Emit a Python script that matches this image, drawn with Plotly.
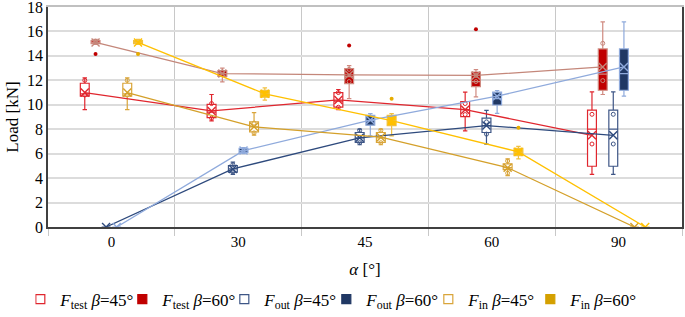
import plotly.graph_objects as go

categories = ["0", "30", "45", "60", "90"]

series_names = [
    "<i>F</i><sub>test</sub> <i>β</i>=45°",
    "<i>F</i><sub>test</sub> <i>β</i>=60°",
    "<i>F</i><sub>out</sub> <i>β</i>=45°",
    "<i>F</i><sub>out</sub> <i>β</i>=60°",
    "<i>F</i><sub>in</sub> <i>β</i>=45°",
    "<i>F</i><sub>in</sub> <i>β</i>=60°",
]

y_ticks = [0, 2, 4, 6, 8, 10, 12, 14, 16, 18]

# box statistics per series, per category (0, 30, 45, 60, 90)
test45_q1 = [10.7, 8.95, 9.81, 9.03, 4.97]
test45_med = [10.9, 9.4, 10.3, 9.6, 8.0]
test45_q3 = [11.76, 10.03, 11.0, 10.27, 9.57]
test45_lo = [9.6, 8.68, 9.6, 7.87, 4.3]
test45_hi = [12.2, 10.84, 11.25, 11.03, 11.05]
test45_mean = [11.0, 9.5, 10.4, 9.6, 7.5]
test45_pts = [[12.0, 10.8], [10.1, 8.9], [11.0, 9.8], [10.1, 9.2], [9.22, 6.79]]
test45_out = [[], [], [], [], []]

test60_q1 = [15.0, 12.33, 11.73, 11.49, 11.19]
test60_med = [15.1, 12.55, 12.3, 11.9, 12.5]
test60_q3 = [15.25, 12.79, 12.95, 12.68, 14.57]
test60_lo = [14.95, 11.87, 10.5, 10.65, 10.84]
test60_hi = [15.35, 13.0, 13.2, 12.87, 16.79]
test60_mean = [15.1, 12.55, 12.45, 12.4, 13.1]
test60_pts = [[15.2], [12.7], [12.9, 11.9], [12.4, 11.9], [15.03, 11.98]]
test60_out = [[14.15], [], [14.84], [16.17], []]

out45_q1 = [0, 4.49, 6.92, 7.73, 4.97]
out45_med = [0, 4.75, 7.3, 8.3, 8.0]
out45_q3 = [0, 5.03, 7.73, 8.9, 9.57]
out45_lo = [0, 4.3, 6.73, 6.78, 4.3]
out45_hi = [0, 5.3, 8.0, 9.54, 11.05]
out45_mean = [0, 4.75, 7.3, 8.3, 7.5]
out45_pts = [[], [5.1, 4.5], [7.9, 6.9], [8.6, 7.6], [9.22, 6.79]]
out45_out = [[], [], [], [], []]

out60_q1 = [0, 6.1, 8.33, 9.98, 11.19]
out60_med = [0, 6.25, 8.7, 10.5, 12.55]
out60_q3 = [0, 6.43, 9.14, 11.03, 14.57]
out60_lo = [0, 6.0, 7.46, 9.3, 10.7]
out60_hi = [0, 6.5, 9.27, 11.17, 16.79]
out60_mean = [0, 6.25, 8.75, 10.7, 13.1]
out60_pts = [[], [], [], [], []]
out60_out = [[], [], [], [], []]

in45_q1 = [10.7, 7.79, 6.92, 4.7, 0]
in45_med = [10.9, 8.2, 7.3, 4.85, 0]
in45_q3 = [11.76, 8.6, 7.73, 5.17, 0]
in45_lo = [9.6, 7.52, 6.73, 4.2, 0]
in45_hi = [12.2, 9.35, 8.0, 5.57, 0]
in45_mean = [11.0, 8.2, 7.35, 4.85, 0]
in45_pts = [[12.0, 10.8], [8.5, 7.7], [7.9, 6.9], [5.4, 4.4], []]
in45_out = [[], [], [], [], []]

in60_q1 = [15.0, 10.62, 8.3, 5.84, 0]
in60_med = [15.1, 10.9, 8.7, 6.1, 0]
in60_q3 = [15.25, 11.19, 9.14, 6.43, 0]
in60_lo = [14.95, 10.38, 7.46, 5.57, 0]
in60_hi = [15.35, 11.38, 9.27, 6.6, 0]
in60_mean = [15.1, 10.9, 8.7, 6.15, 0]
in60_pts = [[], [], [], [], []]
in60_out = [[14.15], [], [10.49], [8.13], []]

stats = [
    (test45_q1, test45_med, test45_q3, test45_lo, test45_hi, test45_mean, test45_pts, test45_out),
    (test60_q1, test60_med, test60_q3, test60_lo, test60_hi, test60_mean, test60_pts, test60_out),
    (out45_q1, out45_med, out45_q3, out45_lo, out45_hi, out45_mean, out45_pts, out45_out),
    (out60_q1, out60_med, out60_q3, out60_lo, out60_hi, out60_mean, out60_pts, out60_out),
    (in45_q1, in45_med, in45_q3, in45_lo, in45_hi, in45_mean, in45_pts, in45_out),
    (in60_q1, in60_med, in60_q3, in60_lo, in60_hi, in60_mean, in60_pts, in60_out),
]

# styles
box_line = ["#E0262E", "#D08A80", "#3E5686", "#8FAADC", "#D9A53A", "#F0C040"]
box_fill = ["#FFFFFF", "#C00000", "#FFFFFF", "#203864", "#FFFFFF", "#FFC000"]
mean_line = ["#E0262E", "#C4877A", "#2E4A7D", "#8FAADC", "#D4A02A", "#FFC000"]
point_col = ["#E0262E", "#C00000", "#3E5686", "#203864", "#D9A53A", "#E6AC00"]
legend_fill = ["#FFFFFF", "#C00000", "#FFFFFF", "#203864", "#FFFFFF", "#D4A000"]
legend_line = ["#E0262E", "#C00000", "#3E5686", "#203864", "#D9A53A", "#D4A000"]
offsets = [-0.21, -0.125, -0.042, 0.042, 0.125, 0.21]
box_w = 0.07

FONT = "serif"

fig = go.Figure()
cat_idx = list(range(len(categories)))

for s, (q1, med, q3, lo, hi, mean, pts, outl) in enumerate(stats):
    xs = [c + offsets[s] for c in cat_idx]
    fig.add_trace(go.Box(
        x=xs, q1=q1, median=med, q3=q3, lowerfence=lo, upperfence=hi,
        width=box_w, whiskerwidth=0.5,
        fillcolor=box_fill[s], line=dict(color=box_line[s], width=1.2),
        boxpoints=False, showlegend=False, hoverinfo="skip",
    ))
for s, (q1, med, q3, lo, hi, mean, pts, outl) in enumerate(stats):
    xs = [c + offsets[s] for c in cat_idx]
    px, py = [], []
    for c, plist in zip(xs, pts):
        for v in plist:
            px.append(c)
            py.append(v)
    ox, oy = [], []
    for c, olist in zip(xs, outl):
        for v in olist:
            ox.append(c)
            oy.append(v)
    fig.add_trace(go.Scatter(
        x=px, y=py, mode="markers", showlegend=False, hoverinfo="skip",
        marker=dict(symbol="circle-open", size=4,
                    color=point_col[s] if box_fill[s] == "#FFFFFF" else mean_line[s],
                    line=dict(width=1)),
    ))
    fig.add_trace(go.Scatter(
        x=ox, y=oy, mode="markers", showlegend=False, hoverinfo="skip",
        marker=dict(symbol="circle", size=4, color=point_col[s]),
    ))
    fig.add_trace(go.Scatter(
        x=xs, y=mean, mode="lines+markers", showlegend=False, hoverinfo="skip",
        line=dict(color=mean_line[s], width=1.3),
        marker=dict(symbol="x-thin-open", size=8, color=mean_line[s],
                    line=dict(width=1.4, color=mean_line[s])),
    ))

for s in range(6):
    fig.add_trace(go.Scatter(
        x=[None], y=[None], mode="markers", name=series_names[s], xaxis="x2",
        marker=dict(symbol="square", size=9, color=legend_fill[s],
                    line=dict(color=legend_line[s], width=1.2)),
    ))

fig.update_layout(
    width=685, height=317,
    margin=dict(l=48, r=3, t=7, b=90, autoexpand=False),
    paper_bgcolor="white", plot_bgcolor="white",
    font=dict(family=FONT, size=15, color="black"),
    showlegend=True,
    legend=dict(orientation="h", x=-0.02, xanchor="left", y=-0.33, yanchor="middle",
                font=dict(family=FONT, size=17, color="black"),
                entrywidth=72, entrywidthmode="pixels", indentation=-15,
                itemwidth=30, tracegroupgap=0, bgcolor="rgba(0,0,0,0)"),
    xaxis=dict(
        range=[-0.5, 4.5], tickmode="array", tickvals=cat_idx, ticktext=categories,
        showgrid=False, zeroline=False, showline=True, linecolor="#404040", linewidth=1.5,
        ticks="", tickfont=dict(family=FONT, size=15),
        minor=dict(tickmode="linear", tick0=0.5, dtick=1, showgrid=True, gridcolor="#C8C8C8",
                   gridwidth=1, ticks="outside", ticklen=7, tickcolor="#C8C8C8"),
        title=dict(text="<i>α</i> [°]", font=dict(family=FONT, size=17), standoff=14),
    ),
    xaxis2=dict(
        range=[-0.5, 4.5], overlaying="x", side="top", anchor="y",
        showline=True, linecolor="#C0C0C0", linewidth=2,
        showgrid=False, zeroline=False, showticklabels=False, ticks="",
    ),
    yaxis=dict(
        range=[0, 18], tickmode="array", tickvals=y_ticks, showgrid=True,
        gridcolor="#DCDCDC", gridwidth=1.5, ticklabeloverflow="allow",
        zeroline=False, showline=True, linecolor="#404040", linewidth=1.5, mirror=True,
        ticks="", tickfont=dict(family=FONT, size=16),
        title=dict(text="Load [kN]", font=dict(family=FONT, size=17), standoff=4),
    ),
)

fig.write_html("out.html", config={"displayModeBar": False},
               post_script="document.body.style.margin='0';")
